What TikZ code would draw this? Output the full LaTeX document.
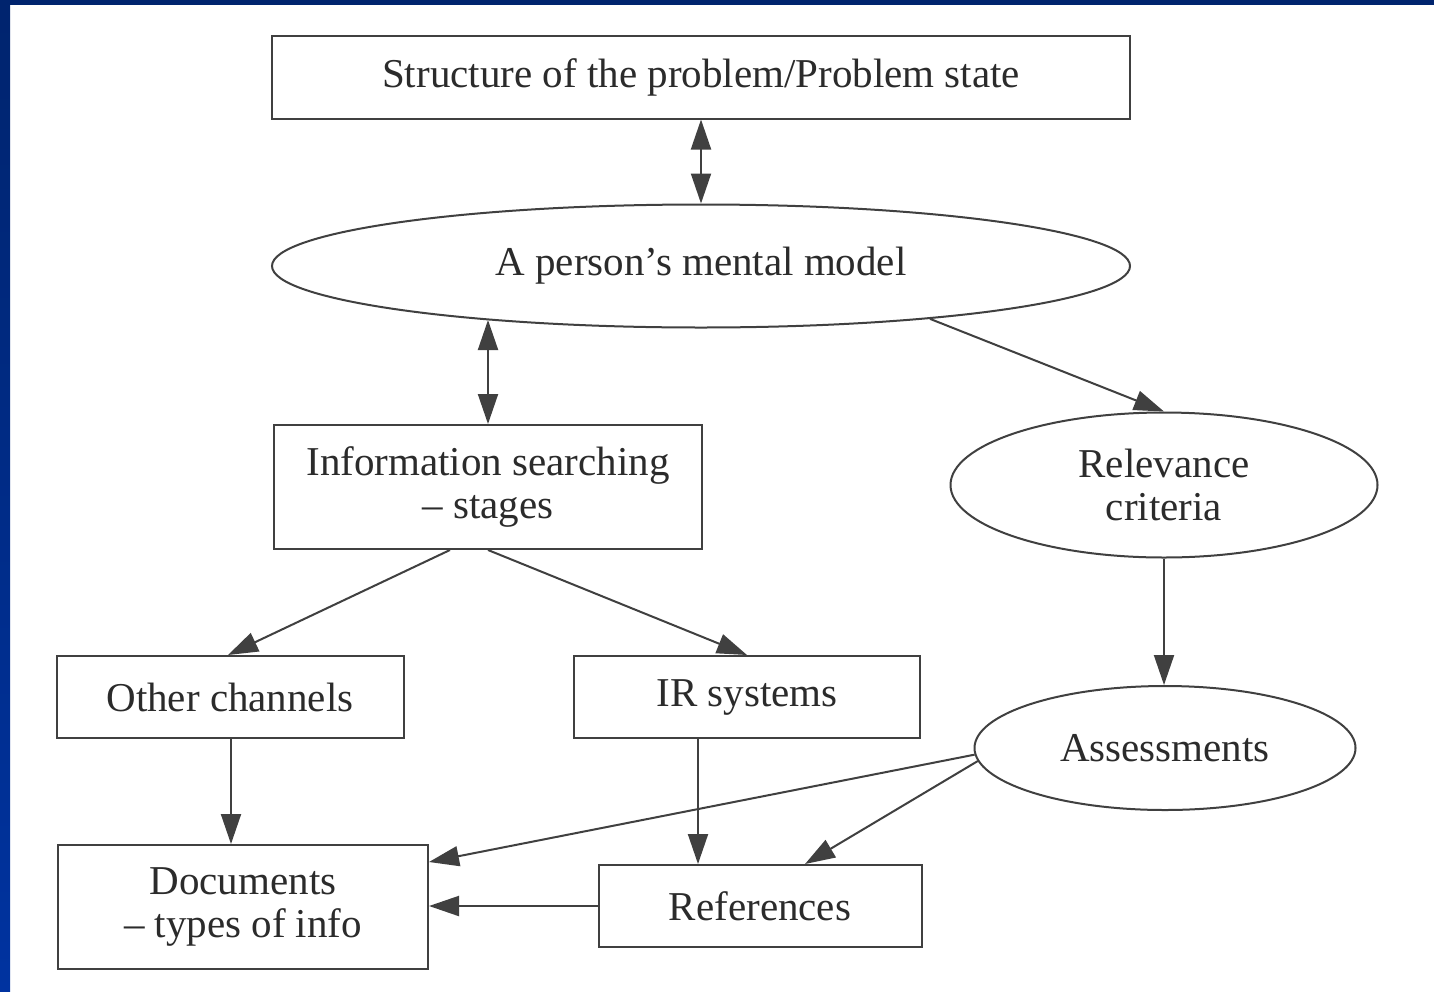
\documentclass[tikz,border=0pt]{standalone}
\usepackage{fontspec}
\setmainfont{Liberation Serif}
\usetikzlibrary{shapes.geometric,arrows.meta}
\definecolor{ink}{HTML}{2B2B2B}
\definecolor{navy}{HTML}{00246E}
\definecolor{royal}{HTML}{0033A0}
\begin{document}
\begin{tikzpicture}[x=1pt,y=-1pt,
  every node/.style={text=ink,font=\fontsize{41}{43}\selectfont,align=center},
  boxnode/.style={draw=ink!90,line width=2pt,rectangle,inner sep=0pt},
  ovalnode/.style={draw=ink!90,line width=2pt,ellipse,inner sep=0pt},
  link/.style={draw=ink!90,line width=2pt,-{Triangle[length=30pt,width=20pt]}},
  biglink/.style={draw=ink!90,line width=2pt,{Triangle[length=30pt,width=20pt]}-{Triangle[length=30pt,width=20pt]}}]
  % page and frame
  \useasboundingbox (0,0) rectangle (1434,991);
  \fill[white] (0,0) rectangle (1434,991);
  \shade[top color=navy,bottom color=royal] (0,0) rectangle (10,991);
  \fill[navy] (0,0) rectangle (1434,5);

  % nodes
  \node[boxnode,minimum width=858pt,minimum height=83pt] (prob) at (701,77) {Structure of the problem/Problem state};
  \node[ovalnode,minimum width=858pt,minimum height=123pt] (mm) at (701,266) {A person’s mental model};
  \node[boxnode,minimum width=428pt,minimum height=124pt] (info) at (488,487) {Information searching\\– stages};
  \node[ovalnode,minimum width=427pt,minimum height=145pt] (rel) at (1164,485) {Relevance\\criteria};
  \node[boxnode,minimum width=347pt,minimum height=82pt] (oc) at (230,697) {Other channels};
  \node[boxnode,minimum width=346pt,minimum height=82pt] (ir) at (747,697) {IR systems};
  \node[ovalnode,minimum width=381pt,minimum height=124pt] (ass) at (1165,748) {Assessments};
  \node[boxnode,minimum width=370pt,minimum height=124pt] (docs) at (243,907) {Documents\\– types of info};
  \node[boxnode,minimum width=323pt,minimum height=82pt] (refs) at (760,906) {References};

  % connectors
  \draw[biglink] (prob.south) -- (mm.north);
  \draw[biglink] (info.north |- mm.-166) -- (info.north);
  \draw[link] (mm.-13) -- (rel.north);
  \draw[link] ([xshift=-38pt]info.south) -- ([xshift=-2pt]oc.north);
  \draw[link] (info.south) -- (ir.north);
  \draw[link] (rel.south) -- (rel.south |- ass.north);
  \draw[link] ([xshift=1pt]oc.south) -- ([xshift=-12pt]docs.north);
  \draw[link] ([xshift=-49pt]ir.south) -- ([xshift=-62pt]refs.north);
  \draw[link] (ass.182) -- ([yshift=45pt]docs.east);
  \draw[link] (ass.184) -- ([xshift=45pt]refs.north);
  \draw[link] (refs.west) -- (refs.west -| docs.east);
\end{tikzpicture}
\end{document}
